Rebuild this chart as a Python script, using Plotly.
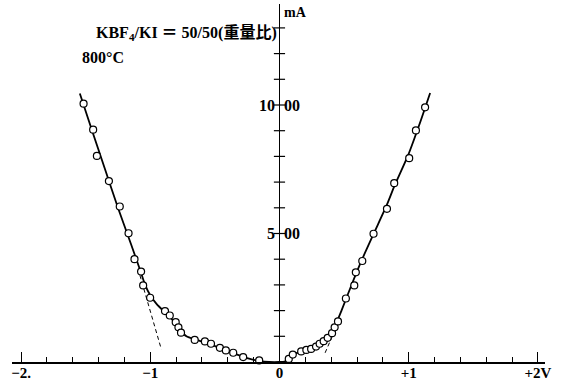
import plotly.graph_objects as go

# measured points (V, mA)
left_v = [-1.516, -1.442, -1.413, -1.320, -1.236, -1.168, -1.122, -1.071, -1.055, -1.001,
          -0.886, -0.849, -0.803, -0.782, -0.762, -0.656, -0.577, -0.530, -0.461, -0.415,
          -0.358, -0.281, -0.157]
left_i = [10.05, 9.04, 8.02, 7.04, 6.05, 5.01, 4.00, 3.52, 2.98, 2.50,
          1.98, 1.81, 1.55, 1.35, 1.14, 0.86, 0.80, 0.71, 0.55, 0.45,
          0.36, 0.19, 0.06]
right_v = [0.072, 0.103, 0.168, 0.208, 0.245, 0.283, 0.311, 0.342, 0.373, 0.407,
           0.427, 0.453, 0.514, 0.579, 0.591, 0.641, 0.728, 0.832, 0.888, 1.004,
           1.056, 1.127]
right_i = [0.12, 0.29, 0.41, 0.47, 0.51, 0.60, 0.71, 0.81, 0.94, 1.12,
           1.35, 1.58, 2.47, 2.98, 3.49, 3.93, 4.99, 5.96, 6.96, 7.93,
           9.01, 9.91]

# drawn curve
curve_v = [-1.545, -1.45, -1.35, -1.25, -1.15, -1.08, -1.04, -1.0, -0.95, -0.88, -0.82,
           -0.77, -0.72, -0.65, -0.55, -0.45, -0.35, -0.25, -0.15, -0.08, 0.0,
           0.04, 0.08, 0.12, 0.2, 0.28, 0.34, 0.39, 0.43, 0.48, 0.55, 0.64, 0.73,
           0.83, 0.89, 1.0, 1.08, 1.166]
curve_i = [10.45, 9.0, 7.5, 6.0, 4.6, 3.6, 3.0, 2.6, 2.25, 1.9, 1.6,
           1.25, 1.0, 0.87, 0.72, 0.52, 0.33, 0.15, 0.03, 0.0, 0.0,
           0.02, 0.15, 0.32, 0.45, 0.6, 0.8, 1.05, 1.4, 2.0, 2.9, 4.0, 5.0,
           6.1, 6.85, 8.1, 9.2, 10.47]

# dashed extrapolations
dash_left_v = [-1.08, -0.914]
dash_left_i = [3.37, 0.49]
dash_right_v = [0.43, 0.344]
dash_right_i = [1.25, 0.25]

# axis ticks / labels
x_tick_vals = [-2, -1, 0, 1, 2]
x_tick_text = ["−2.", "−1", "0", "+1", "+2V"]
y_tick_vals = [1, 2, 3, 4, 5, 6, 7, 8, 9, 10, 11, 12, 13]

SERIF = "Liberation Serif, Noto Sans CJK JP, serif"

fig = go.Figure()
fig.add_trace(go.Scatter(x=curve_v, y=curve_i, mode="lines",
                         line=dict(color="black", width=1.8, shape="spline", smoothing=0.6),
                         hoverinfo="skip", cliponaxis=False))
fig.add_trace(go.Scatter(x=dash_left_v, y=dash_left_i, mode="lines",
                         line=dict(color="black", width=1, dash="4px,3px")))
fig.add_trace(go.Scatter(x=dash_right_v, y=dash_right_i, mode="lines",
                         line=dict(color="black", width=1, dash="4px,3px")))
fig.add_trace(go.Scatter(x=left_v + right_v, y=left_i + right_i, mode="markers",
                         marker=dict(symbol="circle", size=7, color="white",
                                     line=dict(color="black", width=1.2)),
                         cliponaxis=False))
# crossing ticks on the vertical axis
fig.add_trace(go.Scatter(x=[0] * len(y_tick_vals), y=y_tick_vals, mode="markers",
                         marker=dict(symbol="line-ew", size=8,
                                     line=dict(color="black", width=1.2)),
                         cliponaxis=False))

fig.update_xaxes(range=[-2.07, 2.055], showgrid=False, automargin=False,
                 zeroline=True, zerolinecolor="black", zerolinewidth=1.3,
                 showline=True, linecolor="black", linewidth=1.5,
                 tickmode="array", tickvals=x_tick_vals, ticktext=x_tick_text,
                 ticks="inside", ticklen=10, tickwidth=1.3, tickcolor="black",
                 ticklabelstandoff=-4,
                 tickfont=dict(family=SERIF, size=15, color="black", weight="bold"),
                 minor=dict(tickmode="linear", tick0=0, dtick=0.2, ticks="inside",
                            ticklen=5, tickwidth=1, tickcolor="black", showgrid=False))
fig.update_yaxes(range=[0, 13.93], visible=False, automargin=False)

ann = dict(showarrow=False, font=dict(family=SERIF, size=16, color="black", weight="bold"))
fig.add_annotation(x=0, y=10, text="10", xanchor="right", xshift=-2, **ann)
fig.add_annotation(x=0, y=10, text="00", xanchor="left", xshift=3, **ann)
fig.add_annotation(x=0, y=5, text="5", xanchor="right", xshift=-2, **ann)
fig.add_annotation(x=0, y=5, text="00", xanchor="left", xshift=3, **ann)
fig.add_annotation(x=0, y=13.6, text="mA", xanchor="left", xshift=3,
                   **{**ann, "font": dict(family=SERIF, size=14, color="black", weight="bold")})
fig.add_annotation(x=0, y=12.78, text="KBF<sub>4</sub>/KI ＝ 50/50(重量比)", xanchor="right", xshift=0,
                   **ann)
fig.add_annotation(x=-1.544, y=11.85, text="800°C", xanchor="left", **ann)

fig.update_layout(width=569, height=385, margin=dict(l=12, r=24, t=4, b=23, autoexpand=False),
                  plot_bgcolor="white", paper_bgcolor="white", showlegend=False)
fig.write_html("out.html", config={"displayModeBar": False},
               post_script="document.body.style.margin='0';document.body.style.overflow='hidden';")
